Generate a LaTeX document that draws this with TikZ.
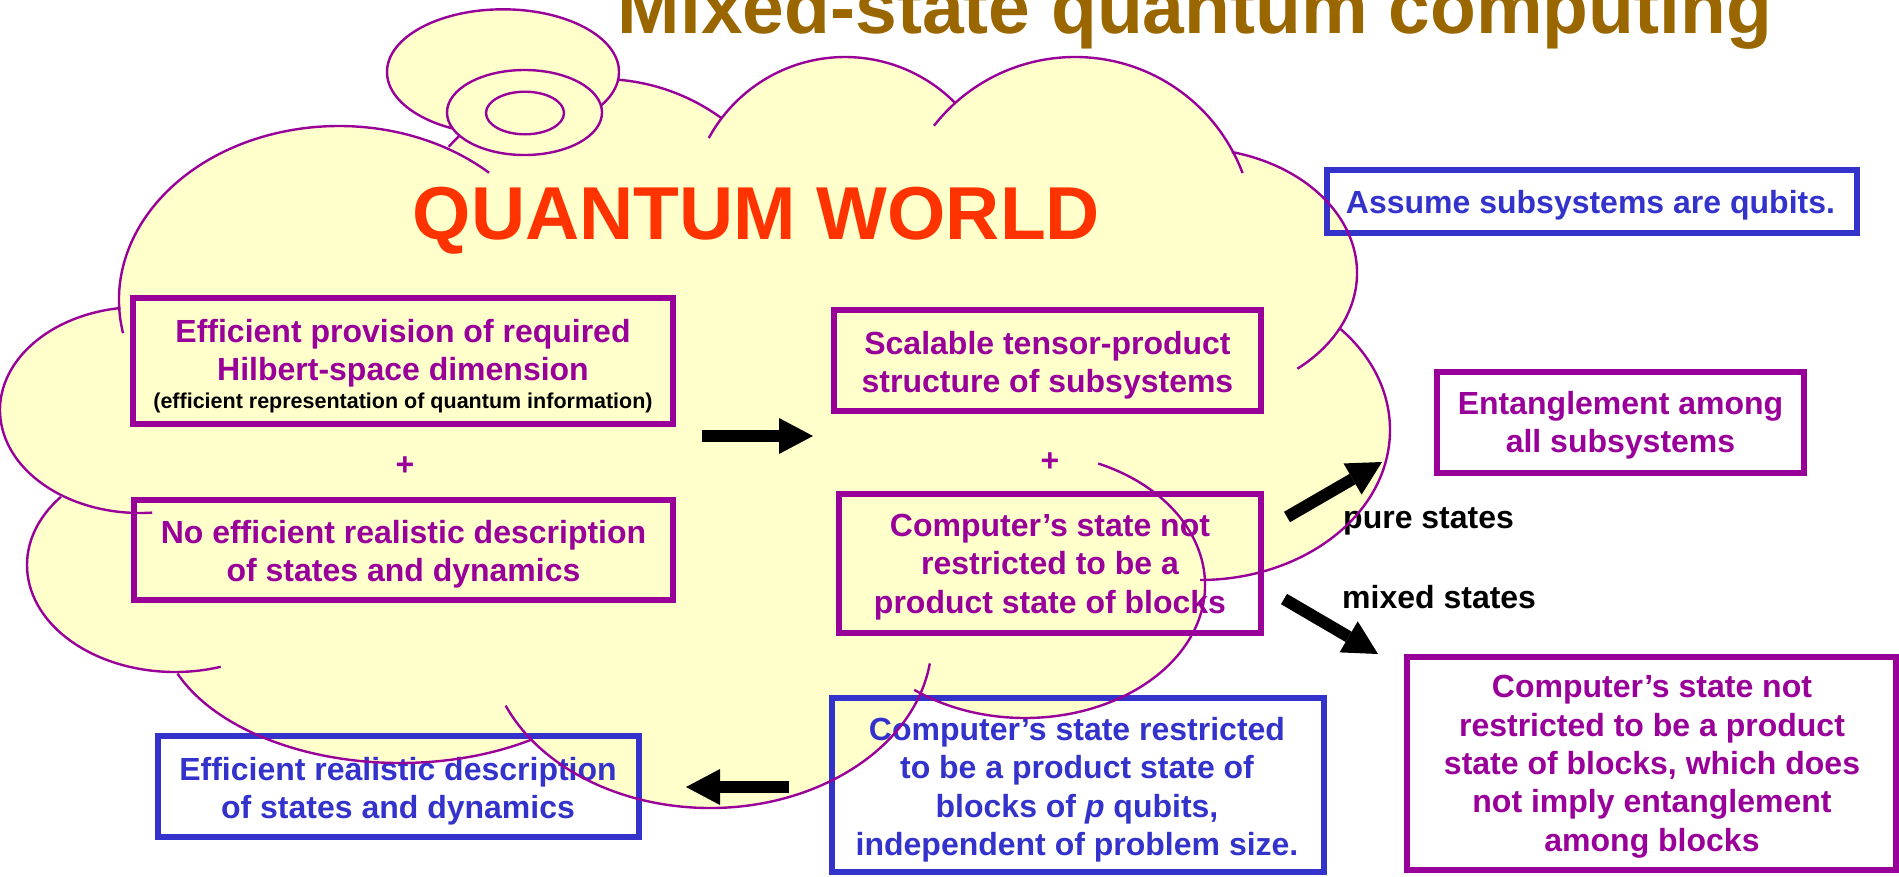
\documentclass[tikz,border=0pt]{standalone}
\usepackage{fontspec}
\setmainfont{Liberation Sans}
\usetikzlibrary{arrows.meta}
\definecolor{cpurple}{HTML}{990099}
\definecolor{cblue}{HTML}{3333CC}
\definecolor{cyellow}{HTML}{FFFFCC}
\definecolor{corange}{HTML}{FF3300}
\definecolor{cbrown}{HTML}{996600}
\tikzset{
  cloudline/.style={draw=cpurple, line width=2.4pt},
  cloudfill/.style={fill=cyellow},
  bubble/.style={fill=cyellow, draw=cpurple, line width=2.4pt},
  pbox/.style={draw=cpurple, line width=6pt, rectangle, inner sep=0pt},
  bbox/.style={draw=cblue, line width=6pt, rectangle, inner sep=0pt},
  ptext/.style={text=cpurple, font=\bfseries\fontsize{32}{38.4}\selectfont, align=center, inner sep=0pt, anchor=north},
  btext/.style={text=cblue, font=\bfseries\fontsize{32}{38.4}\selectfont, align=center, inner sep=0pt, anchor=north},
  ktext/.style={text=black, font=\bfseries\fontsize{32}{38.4}\selectfont, inner sep=0pt, anchor=base west},
  smalltext/.style={text=black, font=\bfseries\fontsize{21.5}{26}\selectfont, inner sep=0pt, anchor=base},
  plus/.style={text=cpurple, font=\bfseries\fontsize{32}{38.4}\selectfont, inner sep=0pt, anchor=center},
  bigarrow/.style={draw=black, line width=12pt, -{Triangle[length=34pt,width=36pt,line width=0pt]}},
}
\newcommand{\cloudarc}[6]{\draw[cloudline] ([shift={(#5:#3 and #4)}]#1,#2) arc[start angle=#5, end angle=#6, x radius=#3, y radius=#4];}
\newcommand{\cloudlobe}[4]{\fill[cloudfill] (#1,#2) ellipse[x radius=#3, y radius=#4];}
\begin{document}
\begin{tikzpicture}[x=1pt,y=-1pt]
\useasboundingbox (0,0) rectangle (1899,876);
\clip (0,0) rectangle (1899,876);

% ---------- cloud fill ----------
\fill[cloudfill] (339,300) -- (601,284) -- (845,212) -- (1075,232) -- (1190,273) -- (1200,430)
  -- (1025,585) -- (710,640) -- (400,620) -- (175,565) -- (140,410) -- cycle;
\cloudlobe{339}{300}{220}{174}
\cloudlobe{601}{284}{205}{205}
\cloudlobe{845}{212}{155}{155}
\cloudlobe{1075}{236}{179}{179}
\cloudlobe{1190}{273}{167}{125}
\cloudlobe{1200}{430}{190}{150}
\cloudlobe{1025}{585}{180}{133}
\cloudlobe{710}{640}{222}{168}
\cloudlobe{400}{620}{240}{143}
\cloudlobe{175}{565}{148}{107}
\cloudlobe{140}{410}{140}{103}

% ---------- titles ----------
\node[text=cbrown, font=\bfseries\fontsize{75}{90}\selectfont, inner sep=0pt, anchor=base] (title) at (1195,33) {Mixed-state quantum computing};
\node[text=corange, font=\bfseries\fontsize{75}{90}\selectfont, inner sep=0pt, anchor=base] (qw) at (756.5,239) {QUANTUM WORLD};

% ---------- boxes ----------
\node[pbox, minimum width=540pt, minimum height=126pt] (A) at (403,361) {};
\node[pbox, minimum width=539pt, minimum height=100pt] (B) at (403.5,550) {};
\node[pbox, minimum width=427pt, minimum height=101pt] (C) at (1047.5,360.5) {};
\node[pbox, minimum width=422pt, minimum height=139pt] (D) at (1050,563.5) {};
\node[pbox, minimum width=367pt, minimum height=101pt] (E) at (1620.5,422.5) {};
\node[pbox, minimum width=489pt, minimum height=213pt] (F) at (1651.5,763.5) {};
\node[bbox, minimum width=492pt, minimum height=174pt] (G) at (1078,785) {};
\node[bbox, minimum width=481pt, minimum height=101pt] (H) at (398.5,786.5) {};
\node[bbox, minimum width=530.5pt, minimum height=63pt] (I) at (1592,201.5) {};

% ---------- texts ----------
\node[ptext] (At) at (403,318.7) {Efficient provision of required\\Hilbert-space dimension};
\node[smalltext] (As) at (403,408) {(efficient representation of quantum information)};
\node[plus] (p1) at (405,466) {+};
\node[ptext] (Bt) at (403.5,519.7) {No efficient realistic description\\of states and dynamics};
\node[ptext] (Ct) at (1047.5,330.7) {Scalable tensor-product\\structure of subsystems};
\node[plus] (p2) at (1050,462) {+};
\node[ptext] (Dt) at (1050,513.7) {Computer’s state not\\restricted to be a\\product state of blocks};
\node[ptext] (Et) at (1620.5,391.2) {Entanglement among\\all subsystems};
\node[ptext] (Ft) at (1652,675.2) {Computer’s state not\\restricted to be a product\\state of blocks, which does\\not imply entanglement\\among blocks};
\node[btext] (Gt) at (1077,717.2) {Computer’s state restricted\\to be a product state of\\blocks of \textit{p} qubits,\\independent of problem size.};
\node[btext] (Ht) at (398,756.7) {Efficient realistic description\\of states and dynamics};
\node[text=cblue, font=\bfseries\fontsize{32}{38.4}\selectfont, inner sep=0pt, anchor=base] (It) at (1590.5,213) {Assume subsystems are qubits.};
\node[ktext] (pure) at (1343,528) {pure states};
\node[ktext] (mixed) at (1342,608) {mixed states};

% ---------- arrows ----------
\coordinate (a1s) at (702,436); \coordinate (a1e) at (813,436);
\coordinate (a2s) at (789,787); \coordinate (a2e) at (686,787);
\coordinate (a3s) at (1287,517); \coordinate (a3e) at (1382,462);
\coordinate (a4s) at (1284,599); \coordinate (a4e) at (1378,654);
\draw[bigarrow] (a1s) -- (a1e);
\draw[bigarrow] (a2s) -- (a2e);
\draw[bigarrow] (a3s) -- (a3e);
\draw[bigarrow] (a4s) -- (a4e);

% ---------- cloud outline arcs ----------
\cloudarc{339}{300}{220}{174}{169}{313}
\cloudarc{601}{284}{205}{205}{222}{306}
\cloudarc{845}{212}{155}{155}{208.5}{315.3}
\cloudarc{1075}{236}{179}{179}{218}{339.4}
\cloudarc{1190}{273}{167}{125}{284.5}{410}
\cloudarc{1200}{430}{190}{150}{-43}{90}
\cloudarc{1025}{585}{180}{133}{294}{488}
\cloudarc{710}{640}{222}{168}{8}{157}
\cloudarc{400}{620}{240}{143}{57}{158}
\cloudarc{175}{565}{148}{107}{219.6}{72}
\cloudarc{140}{410}{140}{103}{262}{85}

% ---------- thought bubbles ----------
\draw[bubble] (503,72) ellipse[x radius=116, y radius=62.7];
\draw[bubble] (524.5,112.5) ellipse[x radius=77.5, y radius=42.5];
\draw[bubble] (525,113) ellipse[x radius=39, y radius=21.3];
\end{tikzpicture}
\end{document}
